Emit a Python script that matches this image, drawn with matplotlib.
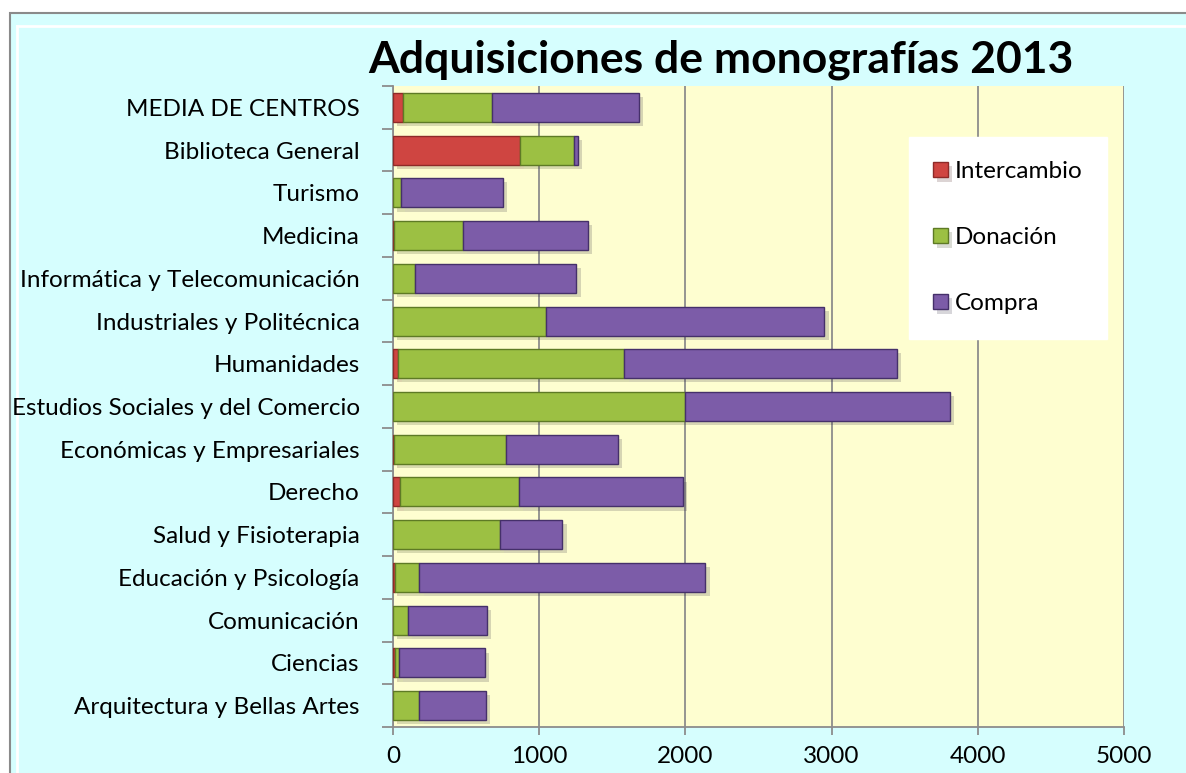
import matplotlib
matplotlib.use("Agg")
import matplotlib.pyplot as plt
import matplotlib.patheffects as pe
from matplotlib.patches import Rectangle
from matplotlib.lines import Line2D
import numpy as np

plt.rcParams["font.family"] = ["Lato", "DejaVu Sans"]

# data, bottom row first
centros = [
    "Arquitectura y Bellas Artes", "Ciencias", "Comunicación",
    "Educación y Psicología", "Salud y Fisioterapia", "Derecho",
    "Económicas y Empresariales", "Estudios Sociales y del Comercio",
    "Humanidades", "Industriales y Politécnica",
    "Informática y Telecomunicación", "Medicina", "Turismo",
    "Biblioteca General", "MEDIA DE CENTROS",
]
intercambio = [3, 12, 0, 15, 0, 49, 10, 0, 33, 0, 0, 4, 0, 870, 68]
donacion = [178, 28, 104, 166, 733, 812, 764, 1994, 1550, 1048, 150, 476, 52, 368, 606]
compra = [456, 588, 538, 1956, 426, 1124, 766, 1815, 1866, 1903, 1105, 856, 697, 26, 1006]
series = ["Intercambio", "Donación", "Compra"]
x_ticks = [0, 1000, 2000, 3000, 4000, 5000]

C_RED = "#CF4541"
C_GREEN = "#9CC043"
C_PURPLE = "#7C5CA8"
C_BG = "#D6FEFE"
C_PLOT = "#FEFED0"
C_GRID = "#8C8C8C"
FS = 17.5

W, H = 1186, 773
fig = plt.figure(figsize=(W / 100, H / 100), dpi=100, facecolor="white")

# outer chart frame
fig.patches.append(Rectangle((10 / W, -0.05), 1.2, (H - 13) / H + 0.05,
                             transform=fig.transFigure, facecolor=C_BG,
                             edgecolor="#8A8A8A", lw=1.5, zorder=-10))
fig.add_artist(Line2D([17 / W, 1.0], [1 - 26 / H, 1 - 26 / H],
                      transform=fig.transFigure, color="white", lw=2, zorder=-5))
fig.add_artist(Line2D([17 / W, 17 / W], [0, 1 - 26 / H],
                      transform=fig.transFigure, color="white", lw=2, zorder=-5))

ax = fig.add_axes([393 / W, 1 - 727 / H, (1124 - 393) / W, (727 - 86) / H])
ax.set_facecolor(C_PLOT)

y = np.arange(len(centros))
h = 0.68
shadow = [pe.SimplePatchShadow(offset=(3, -3), alpha=0.18), pe.Normal()]
left = np.zeros(len(centros))
for vals, col, edge, name in zip([intercambio, donacion, compra],
                                 [C_RED, C_GREEN, C_PURPLE],
                                 ["#8E2A28", "#5E7A25", "#45306A"], series):
    bars = ax.barh(y, vals, left=left, height=h, color=col, edgecolor=edge,
                   lw=1.0, label=name, zorder=3)
    for b in bars:
        b.set_path_effects(shadow)
    left += np.array(vals)

ax.set_xlim(0, 5000)
ax.set_ylim(-0.5, len(centros) - 0.5)
ax.set_xticks(x_ticks)
ax.set_xticklabels([str(v) for v in x_ticks], fontsize=FS)
ax.xaxis.grid(True, color=C_GRID, lw=1.3, zorder=1)
ax.set_axisbelow(True)
ax.tick_params(axis="x", length=6, width=1.3, color=C_GRID, pad=8)

ax.set_yticks(y)
ax.set_yticklabels(centros, fontsize=FS)
ax.set_yticks(np.arange(-0.5, len(centros)), minor=True)
ax.tick_params(axis="y", which="major", length=0, pad=24)
ax.tick_params(axis="y", which="minor", length=8, width=1.3, color=C_GRID)

for s in ["top", "right"]:
    ax.spines[s].set_visible(False)
for s in ["left", "bottom"]:
    ax.spines[s].set_color(C_GRID)
    ax.spines[s].set_linewidth(1.3)

leg = ax.legend(loc="upper left", bbox_to_anchor=((909 - 393) / 731, (727 - 137) / 641),
                borderaxespad=0, fontsize=FS, frameon=True, fancybox=False,
                labelspacing=1.85, handlelength=0.6, handleheight=0.6,
                handletextpad=0.3, borderpad=1.0)
leg.get_frame().set_facecolor("white")
leg.get_frame().set_edgecolor("white")
leg.get_frame().set_alpha(1)

fig.text(721 / W, 1 - 72 / H, "Adquisiciones de monografías 2013",
         ha="center", va="baseline", fontsize=32, fontweight="bold")

fig.savefig("out.png", dpi=100, facecolor=fig.get_facecolor())
